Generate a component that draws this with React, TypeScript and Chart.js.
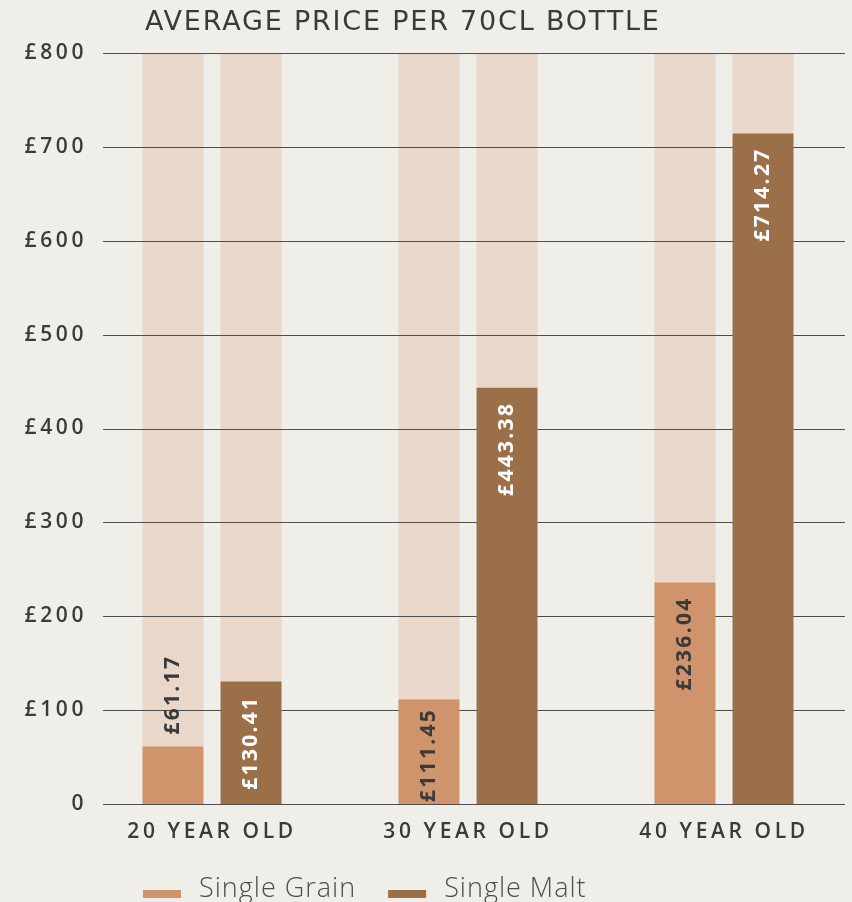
import React, { useEffect, useRef } from 'react';
import { Chart, registerables } from 'chart.js';

Chart.register(...registerables);

// ---- data ----
const categories = ['20 YEAR OLD', '30 YEAR OLD', '40 YEAR OLD'];
const singleGrain = [61.17, 111.45, 236.04];
const singleMalt = [130.41, 443.38, 714.27];
const trackGrain = [800, 800, 800];
const trackMalt = [800, 800, 800];
const seriesLabels = ['Single Grain', 'Single Malt'];
const titleText = 'AVERAGE PRICE PER 70CL BOTTLE';
const yMin = 0;
const yMax = 800;
const yStep = 100;

// ---- style ----
const FONT = '"Open Sans", "DejaVu Sans", sans-serif';
const TITLE_FONT = '"DejaVu Sans", "Open Sans", sans-serif';
const BG = '#f0eee9';
const GRAIN = '#d0946c';
const MALT = '#9b7049';
const TRACK = '#e9d7ca';
const TEXT = '#3a3a3a';
const GRID = '#4e4e4e';

const CAT_PCT = 0.61;
const BAR_PCT = 0.78;

const gridPlugin = {
  id: 'customGrid',
  afterDatasetDraw(chart: any, args: any) {
    if (args.index !== 2) return;
    const ctx = chart.ctx;
    const y = chart.scales.y;
    const { left, right } = chart.chartArea;
    ctx.save();
    ctx.strokeStyle = GRID;
    ctx.lineWidth = 1.2;
    y.ticks.forEach((t: any) => {
      const py = Math.round(y.getPixelForValue(t.value)) + 0.5;
      ctx.beginPath();
      ctx.moveTo(left + 19, py);
      ctx.lineTo(right - 7, py);
      ctx.stroke();
    });
    ctx.restore();
  },
};

const spacingPlugin = {
  id: 'spacing',
  beforeDraw(chart: any) {
    (chart.ctx as any).letterSpacing = '3.6px';
  },
};

const labelPlugin = {
  id: 'barLabels',
  afterDatasetsDraw(chart: any) {
    const ctx = chart.ctx;
    [0, 1].forEach((di) => {
      const meta = chart.getDatasetMeta(di);
      const data = chart.data.datasets[di].data as number[];
      meta.data.forEach((bar: any, i: number) => {
        const txt = '£' + data[i].toFixed(2);
        ctx.save();
        ctx.letterSpacing = '2.3px';
        ctx.font = `700 21px ${FONT}`;
        const w = ctx.measureText(txt).width;
        const avail = bar.base - bar.y;
        const offset = Math.min(14, avail - w - 2);
        ctx.fillStyle = di === 0 ? TEXT : '#ffffff';
        ctx.textBaseline = 'middle';
        if (offset >= 2) {
          ctx.translate(bar.x, bar.y + offset);
          ctx.rotate(-Math.PI / 2);
          ctx.textAlign = 'right';
          ctx.fillText(txt, 0, 0);
        } else {
          ctx.fillStyle = TEXT;
          ctx.translate(bar.x, bar.y - 12);
          ctx.rotate(-Math.PI / 2);
          ctx.textAlign = 'left';
          ctx.fillText(txt, 0, 0);
        }
        ctx.restore();
      });
    });
  },
};

const decorPlugin = {
  id: 'decor',
  afterDraw(chart: any) {
    const ctx = chart.ctx;
    const { left, top, bottom } = chart.chartArea;
    ctx.save();
    // title
    ctx.letterSpacing = '1.8px';
    ctx.font = `400 27px ${TITLE_FONT}`;
    ctx.fillStyle = TEXT;
    ctx.textAlign = 'left';
    ctx.textBaseline = 'alphabetic';
    ctx.fillText(titleText, left + 61, top - 23);
    // legend
    ctx.letterSpacing = '1px';
    ctx.font = `300 27px ${FONT}`;
    let x = left + 59;
    [0, 1].forEach((di) => {
      const ds = chart.data.datasets[di];
      ctx.fillStyle = ds.backgroundColor as string;
      ctx.fillRect(x, bottom + 86, 38, 8);
      ctx.fillStyle = '#4e4e4e';
      const label = ds.label as string;
      ctx.fillText(label, x + 56, bottom + 93);
      x += 56 + ctx.measureText(label).width + 32;
    });
    ctx.restore();
  },
};

export default function App() {
  const ref = useRef<HTMLCanvasElement>(null);
  useEffect(() => {
    document.body.style.margin = '0';
    const chart = new Chart(ref.current!, {
      type: 'bar',
      data: {
        labels: categories,
        datasets: [
          { label: seriesLabels[0], data: singleGrain, backgroundColor: GRAIN, stack: 'grain', categoryPercentage: CAT_PCT, barPercentage: BAR_PCT },
          { label: seriesLabels[1], data: singleMalt, backgroundColor: MALT, stack: 'malt', categoryPercentage: CAT_PCT, barPercentage: BAR_PCT },
          { label: 'track1', data: trackGrain, backgroundColor: TRACK, stack: 'grain', categoryPercentage: CAT_PCT, barPercentage: BAR_PCT },
          { label: 'track2', data: trackMalt, backgroundColor: TRACK, stack: 'malt', categoryPercentage: CAT_PCT, barPercentage: BAR_PCT },
        ] as any,
      },
      options: {
        responsive: false,
        animation: false,
        devicePixelRatio: 1,
        layout: { padding: { top: 53, left: 0, right: 0, bottom: 0 } },
        plugins: {
          legend: { display: false },
          tooltip: { enabled: false },
          title: { display: false },
        },
        scales: {
          x: {
            type: 'category',
            grid: { display: false, drawTicks: false },
            border: { display: false },
            ticks: {
              color: TEXT,
              font: { family: FONT, size: 21, weight: '600' },
              padding: 15,
              maxRotation: 0,
            },
            afterFit: (s: any) => { s.height = 98; },
          },
          y: {
            min: yMin,
            max: yMax,
            stacked: false,
            grid: { display: false, drawTicks: false },
            border: { display: false },
            ticks: {
              stepSize: yStep,
              color: TEXT,
              font: { family: FONT, size: 21, weight: '600' },
              padding: -3,
              callback: (v: any) => (Number(v) === 0 ? '0' : '£' + v),
            },
            afterFit: (s: any) => { s.width = 84; },
          },
        },
      } as any,
      plugins: [spacingPlugin, gridPlugin, labelPlugin, decorPlugin],
    });
    return () => chart.destroy();
  }, []);
  return (
    <div style={{ position: 'absolute', left: 0, top: 0, width: 852, height: 902, background: BG, overflow: 'hidden' }}>
      <canvas ref={ref} width={852} height={902} style={{ display: 'block' }} />
    </div>
  );
}
